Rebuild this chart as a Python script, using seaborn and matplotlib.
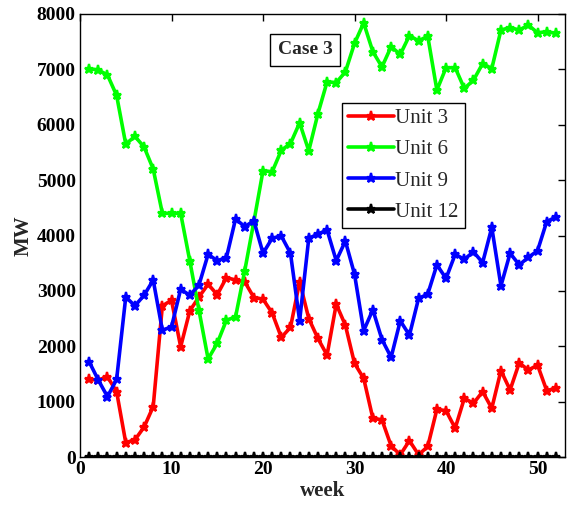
import numpy as np
import pandas as pd
import matplotlib
matplotlib.use("Agg")
import matplotlib.pyplot as plt
import seaborn as sns

weeks = list(range(1, 53))

unit3 = [1400, 1390, 1450, 1180, 260, 310, 540, 910, 2730, 2830,
         1990, 2640, 2890, 3120, 2930, 3240, 3195, 3165, 2880, 2850,
         2600, 2160, 2340, 3165, 2500, 2140, 1840, 2760, 2380, 1690,
         1420, 700, 670, 200, 40, 295, 40, 190, 860, 836,
         520, 1060, 970, 1180, 880, 1560, 1210, 1700, 1570, 1660,
         1200, 1240]

unit6 = [7010, 6990, 6900, 6530, 5650, 5790, 5600, 5200, 4400, 4400,
         4400, 3540, 2650, 1770, 2055, 2470, 2530, 3360, 4250, 5170,
         5150, 5540, 5660, 6035, 5530, 6200, 6775, 6760, 6955, 7470,
         7840, 7320, 7045, 7410, 7270, 7610, 7515, 7600, 6625, 7030,
         7030, 6655, 6805, 7105, 7015, 7710, 7755, 7710, 7800, 7660,
         7680, 7650]

unit9 = [1720, 1390, 1090, 1400, 2890, 2730, 2920, 3195, 2290, 2350,
         3030, 2920, 3105, 3660, 3545, 3600, 4300, 4160, 4265, 3680,
         3950, 3990, 3680, 2460, 3950, 4025, 4100, 3545, 3900, 3300,
         2280, 2660, 2120, 1800, 2460, 2200, 2865, 2940, 3470, 3225,
         3660, 3570, 3705, 3510, 4145, 3090, 3680, 3470, 3605, 3725,
         4250, 4335]

unit12 = [0] * 52

series_names = ["Unit 3", "Unit 6", "Unit 9", "Unit 12"]
series_values = [unit3, unit6, unit9, unit12]
series_colors = ["#ff0000", "#00ff00", "#0000ff", "#000000"]

x_ticks = [0, 10, 20, 30, 40, 50]
y_ticks = [0, 1000, 2000, 3000, 4000, 5000, 6000, 7000, 8000]

sns.set_theme(style="white")
plt.rcParams["font.family"] = ["Liberation Serif", "DejaVu Serif"]

df = pd.DataFrame({
    "week": np.tile(weeks, len(series_names)),
    "MW": np.concatenate(series_values),
    "unit": np.repeat(series_names, len(weeks)),
})

fig = plt.figure(figsize=(5.67, 5.15), dpi=100)
ax = fig.add_axes([80 / 567, 58 / 515, 485 / 567, 443 / 515])

for name, color in zip(series_names, series_colors):
    sns.lineplot(data=df[df["unit"] == name], x="week", y="MW", ax=ax,
                 color=color, linewidth=2.6, marker="*", markersize=6.5,
                 markeredgewidth=1.6, markeredgecolor=color,
                 label=name, legend=False, estimator=None)

ax.set_xlim(0, 53)
ax.set_ylim(0, 8000)
ax.set_xticks(x_ticks)
ax.set_yticks(y_ticks)
ax.tick_params(direction="in", top=True, right=True, length=5, width=1,
               labelsize=14, pad=3, colors="black")
for lbl in ax.get_xticklabels() + ax.get_yticklabels():
    lbl.set_fontweight("bold")
ax.set_xlabel("week", fontsize=15, fontweight="bold", labelpad=2)
ax.set_ylabel("MW", fontsize=15, fontweight="bold", labelpad=2)
for sp in ax.spines.values():
    sp.set_color("black")
    sp.set_linewidth(1.0)

ax.text(0.464, 0.919, "Case 3", transform=ax.transAxes, ha="center",
        va="center", fontsize=14, fontweight="bold",
        bbox=dict(boxstyle="square,pad=0.4", facecolor="white",
                  edgecolor="black", linewidth=1))

handles, labels = ax.get_legend_handles_labels()
leg = ax.legend(handles, labels, loc="upper left", bbox_to_anchor=(0.54, 0.80),
                borderaxespad=0, frameon=True, fancybox=False, framealpha=1,
                edgecolor="black", prop={"size": 15}, handlelength=2.2,
                handletextpad=0.05, labelspacing=0.55, borderpad=0.3)
leg.get_frame().set_linewidth(1.0)

fig.savefig("out.png", dpi=100)
